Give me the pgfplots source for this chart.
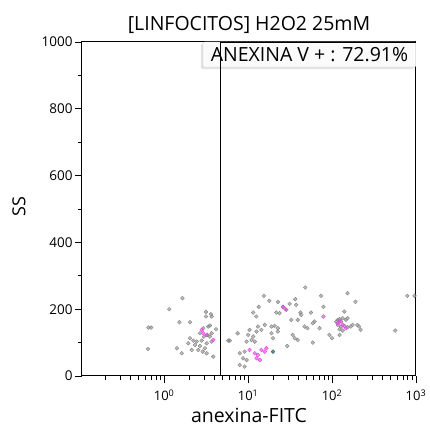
\documentclass[border=0pt]{standalone}
\usepackage{pgfplots}
\pgfplotsset{compat=1.18}
\usepackage{fontspec}
\setmainfont{Open Sans}

\definecolor{evgray}{RGB}{132,132,132}
\definecolor{evpink}{RGB}{228,70,228}
\definecolor{evteal}{RGB}{70,110,120}

\begin{document}
\begin{tikzpicture}
% fixed canvas around the plot area
\path[use as bounding box] (-82pt,-60pt) rectangle (347pt,376pt);
\begin{axis}[
  at={(0pt,0pt)}, anchor=south west,
  scale only axis, width=334pt, height=334pt,
  xmode=log, xmin=0.105, xmax=1000,
  ymin=0, ymax=1000,
  xtick={1,10,100,1000},
  xticklabels={10\textsuperscript{0},10\textsuperscript{1},10\textsuperscript{2},10\textsuperscript{3}},
  minor xtick={0.2,0.3,0.4,0.5,0.6,0.7,0.8,0.9,2,3,4,5,6,7,8,9,20,30,40,50,60,70,80,90,200,300,400,500,600,700,800,900},
  ytick={0,200,400,600,800,1000},
  minor ytick={100,300,500,700,900},
  tick align=outside, tick pos=left,
  major tick length=7pt, minor tick length=4pt,
  every tick/.style={black, line width=0.8pt},
  /pgf/number format/assume math mode=true,
  /pgf/number format/1000 sep={},
  yticklabel style={font=\fontsize{13.5}{13.5}\selectfont, text=black, xshift=1pt},
  xticklabel style={font=\fontsize{13}{13}\selectfont, text=black, yshift=-3pt},
  axis line style={black, line width=1pt},
  clip=true,
]
% gray events
\addplot[only marks, mark=*, color=evgray, mark size=1.9pt,
  mark options={draw=none, fill=evgray, fill opacity=0.55}] coordinates {
(1.65,233)(1.15,200)(0.65,145)(0.70,145)(0.64,81)(1.52,161)(2.03,161)(3.15,192)(3.61,185)(3.15,178)
(3.68,178)(3.51,151)(3.35,148)(2.92,143)(4.14,140)(3.68,128)(3.27,123)(2.67,128)(2.98,118)(3.51,118)
(2.03,113)(2.23,106)(2.44,103)(2.80,106)(3.21,98)(3.68,103)(1.94,98)(2.33,93)(2.67,90)(3.06,83)
(2.13,78)(2.55,78)(2.88,73)(1.42,83)(1.62,68)(3.21,68)(3.85,58)(5.8,106)
(48,265)(15.4,240)(17.9,225)(22.7,222)(13.4,207)(36.5,230)(31.2,216)(37.4,213)(26.0,207)(27.9,200)
(21.7,190)(23.7,188)(11.5,190)(12.5,178)(42,190)(43,183)(56,190)(32.7,168)(39,168)(62,163)
(59,158)(47,148)(51,143)(19.0,148)(20.7,150)(22.6,143)(15.8,153)(13.1,148)(14.4,138)(12.6,133)
(7.5,128)(6.05,106)(10.4,138)(10.0,123)(11.5,118)(11.0,108)(9.6,103)(12.0,103)(19,128)(19.8,113)
(22.6,133)(34,123)(36,113)(39,108)(59,100)(29.2,90)(7.95,68)(9.1,73)(8.7,53)(9.6,48)
(7.95,33)(9.1,28)
(153,248)(190,222)(74,240)(79,207)(140,193)(134,173)(123,170)(117,168)(112,163)(128,163)
(146,168)(153,173)(117,153)(128,148)(140,150)(153,146)(167,148)(123,140)(134,136)(176,153)
(200,153)(210,148)(219,138)(93,123)(100,113)(123,123)(565,136)(790,240)(960,240)(71,143)
};
% magenta events
\addplot[only marks, mark=*, color=evpink, mark size=1.9pt,
  mark options={draw=none, fill=evpink, fill opacity=0.6}] coordinates {
(2.80,138)(3.21,123)(3.85,108)(2.92,128)(10.4,78)(12,68)(13.1,63)(14.4,78)(15.8,73)(16.5,83)
(12.6,53)(13.8,48)(26,207)(28.6,198)(79,178)(123,163)(134,153)(146,143)(117,158)
};
% dark event
\addplot[only marks, mark=*, color=evteal, mark size=1.9pt,
  mark options={draw=none, fill=evteal, fill opacity=0.8}] coordinates {
(19.8,73)
};
% gate label box
\fill[gray!45, opacity=0.5, rounded corners=1.5pt] ([xshift=-2pt,yshift=-2pt]rel axis cs:0.362,0.925) rectangle ([xshift=-2pt,yshift=-2pt]rel axis cs:1.0,1.0);
\filldraw[fill=white, fill opacity=0.9, draw=gray!35, rounded corners=1.5pt] (rel axis cs:0.362,0.925) rectangle (rel axis cs:1.0,1.0);
\node[font=\fontsize{19.5}{19.5}\selectfont, anchor=center, inner sep=0pt] at (rel axis cs:0.681,0.962) {ANEXINA V + : 72.91\%};
% gate
\draw[black, line width=0.9pt] (axis cs:4.65,0) rectangle (axis cs:1000,1000);
\end{axis}
% titles and axis labels
\node[font=\fontsize{19.5}{19.5}\selectfont, anchor=base] at (167pt,345pt) {[LINFOCITOS] H2O2 25mM};
\node[font=\fontsize{19.5}{19.5}\selectfont, anchor=base] at (167pt,-46pt) {anexina-FITC};
\node[font=\fontsize{18}{18}\selectfont, rotate=90, anchor=center] at (-63pt,169pt) {SS};
\end{tikzpicture}
\end{document}
